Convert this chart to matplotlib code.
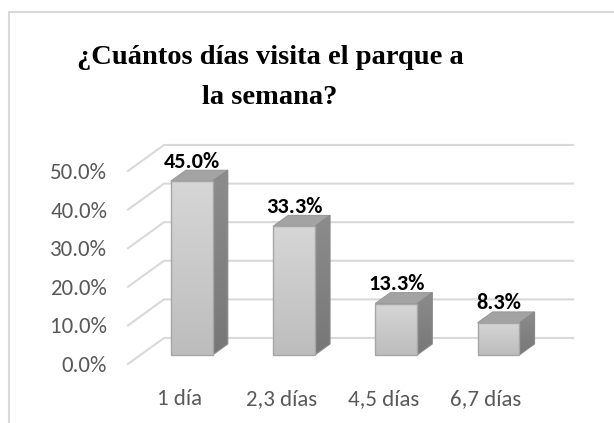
import numpy as np
import matplotlib
matplotlib.use("Agg")
import matplotlib.pyplot as plt
from matplotlib.patches import Polygon, Rectangle
from matplotlib.colors import LinearSegmentedColormap

# chart data
categories = ["1 día", "2,3 días", "4,5 días", "6,7 días"]
values = [45.0, 33.3, 13.3, 8.3]
y_ticks = [0, 10, 20, 30, 40, 50]
title_lines = ["¿Cuántos días visita el parque a", "la semana?"]

# oblique "3D" look (depth offset of back wall, in data units)
DX, DY = 0.352, 6.74
FRONT, DEPTH = 0.35, 0.42
BAR_W = 0.41

W, H = 614, 423
fig = plt.figure(figsize=(W / 100, H / 100), dpi=100)
ax = fig.add_axes([128 / W, (H - 364) / H, 409 / W, 231.6 / H])
ax.set_xlim(-0.5, 3.5)
ax.set_ylim(0, 60)
for s in ax.spines.values():
    s.set_visible(False)

grid_c = "#d9d9d9"
for v in y_ticks:
    ax.plot([-0.5, -0.5 + DX, 3.5 + DX], [v, v + DY, v + DY],
            color=grid_c, lw=1.5, clip_on=False, zorder=1)

front_cmap = LinearSegmentedColormap.from_list("f", ["#bdbdbd", "#d6d6d6"])
side_cmap = LinearSegmentedColormap.from_list("s", ["#777777", "#8c8c8c"])
grad = np.linspace(0, 1, 64).reshape(-1, 1)

for i, v in enumerate(values):
    x0 = i - BAR_W / 2 + FRONT * DX
    y0 = FRONT * DY
    ddx, ddy = DEPTH * DX, DEPTH * DY
    x1 = x0 + BAR_W
    # top face
    top = Polygon([(x0, y0 + v), (x1, y0 + v), (x1 + ddx, y0 + v + ddy),
                   (x0 + ddx, y0 + v + ddy)], closed=True,
                  facecolor="#a3a3a3", edgecolor="#9a9a9a", lw=0.8,
                  clip_on=False, zorder=3)
    ax.add_patch(top)
    # side face
    side = Polygon([(x1, y0), (x1 + ddx, y0 + ddy), (x1 + ddx, y0 + v + ddy),
                    (x1, y0 + v)], closed=True, facecolor="none",
                   edgecolor="#8a8a8a", lw=0.8, clip_on=False, zorder=4)
    ax.add_patch(side)
    im = ax.imshow(grad, extent=[x1, x1 + ddx, y0, y0 + v + ddy],
                   origin="lower", cmap=side_cmap, aspect="auto", zorder=3)
    im.set_clip_path(side)
    # front face
    front = Rectangle((x0, y0), BAR_W, v, facecolor="none",
                      edgecolor="#a6a6a6", lw=1.0, clip_on=False, zorder=5)
    ax.add_patch(front)
    im2 = ax.imshow(grad, extent=[x0, x1, y0, y0 + v], origin="lower",
                    cmap=front_cmap, aspect="auto", zorder=4)
    im2.set_clip_path(front)
    ax.annotate(f"{v:.1f}%", (i + FRONT * DX, y0 + v + ddy),
                xytext=(0, -1), textcoords="offset points",
                ha="center", va="bottom", fontsize=16, fontweight="bold",
                family="Carlito", color="black", zorder=6)

ax.set_xlim(-0.5, 3.5)
ax.set_ylim(0, 60)
ax.set_aspect("auto")

ax.set_yticks(y_ticks)
ax.set_yticklabels([f"{t:.1f}%" for t in y_ticks])
ax.set_xticks(range(len(categories)))
ax.set_xticklabels(categories)
ax.tick_params(axis="both", length=0, labelcolor="#595959")
ax.tick_params(axis="y", pad=15, labelsize=16.5)
ax.tick_params(axis="x", pad=18, labelsize=16.5)
for lab in ax.get_xticklabels() + ax.get_yticklabels():
    lab.set_family("Carlito")

for line, yc in zip(title_lines, [58, 97]):
    fig.text(270 / W, 1 - yc / H, line, ha="center", va="center",
             fontsize=20.5, fontweight="bold", family="Liberation Serif")

fig.patches.append(Rectangle((8.5 / W, -0.1), 2, (H - 12.5) / H + 0.1,
                             transform=fig.transFigure, fill=False,
                             edgecolor="#d9d9d9", lw=1.5))

fig.savefig("out.png", dpi=100)
